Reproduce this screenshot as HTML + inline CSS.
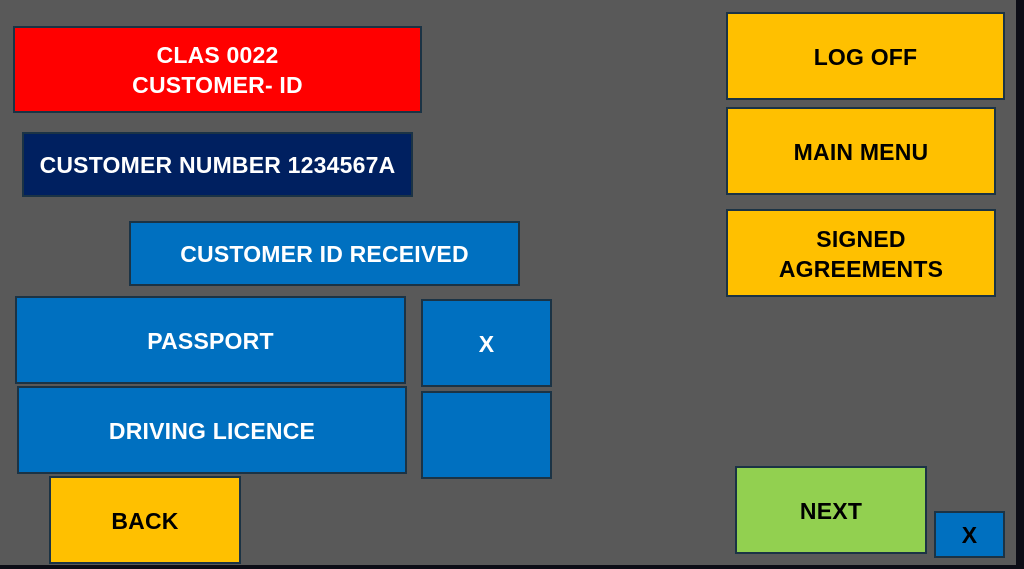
<!DOCTYPE html>
<html>
<head>
<meta charset="utf-8">
<style>
  html,body{margin:0;padding:0;}
  body{width:1024px;height:569px;position:relative;overflow:hidden;background:#595959;
       font-family:"Liberation Sans",Arial,sans-serif;}
  .b{position:absolute;box-sizing:border-box;border:2px solid #1b3345;
     display:flex;align-items:center;justify-content:center;text-align:center;
     font-weight:bold;font-size:23px;line-height:30px;letter-spacing:0.2px;padding-top:1px;}
  .red{background:#ff0000;color:#fff;}
  .navy{background:#002060;color:#fff;}
  .blue{background:#0070c0;color:#fff;}
  .yel{background:#ffc000;color:#000;}
  .grn{background:#92d050;color:#000;}
  .edge-r{position:absolute;left:1016px;top:0;width:8px;height:569px;background:#0c0d16;}
  .edge-b{position:absolute;left:0;top:565px;width:1024px;height:4px;background:#0c0d16;}
</style>
</head>
<body>
  <div class="b red" style="left:13px;top:26px;width:409px;height:87px;">CLAS 0022<br>CUSTOMER- ID</div>
  <div class="b navy" style="left:22px;top:132px;width:391px;height:65px;">CUSTOMER NUMBER 1234567A</div>
  <div class="b blue" style="left:129px;top:221px;width:391px;height:65px;">CUSTOMER ID RECEIVED</div>
  <div class="b blue" style="left:15px;top:296px;width:391px;height:88px;">PASSPORT</div>
  <div class="b blue" style="left:17px;top:386px;width:390px;height:88px;">DRIVING LICENCE</div>
  <div class="b blue" style="left:421px;top:299px;width:131px;height:88px;">X</div>
  <div class="b blue" style="left:421px;top:391px;width:131px;height:88px;"></div>
  <div class="b yel" style="left:49px;top:476px;width:192px;height:88px;">BACK</div>

  <div class="b yel" style="left:726px;top:12px;width:279px;height:88px;">LOG OFF</div>
  <div class="b yel" style="left:726px;top:107px;width:270px;height:88px;">MAIN MENU</div>
  <div class="b yel" style="left:726px;top:209px;width:270px;height:88px;">SIGNED<br>AGREEMENTS</div>

  <div class="b grn" style="left:735px;top:466px;width:192px;height:88px;">NEXT</div>
  <div class="b blue" style="left:934px;top:511px;width:71px;height:47px;color:#000;">X</div>

  <div class="edge-r"></div>
  <div class="edge-b"></div>
</body>
</html>
